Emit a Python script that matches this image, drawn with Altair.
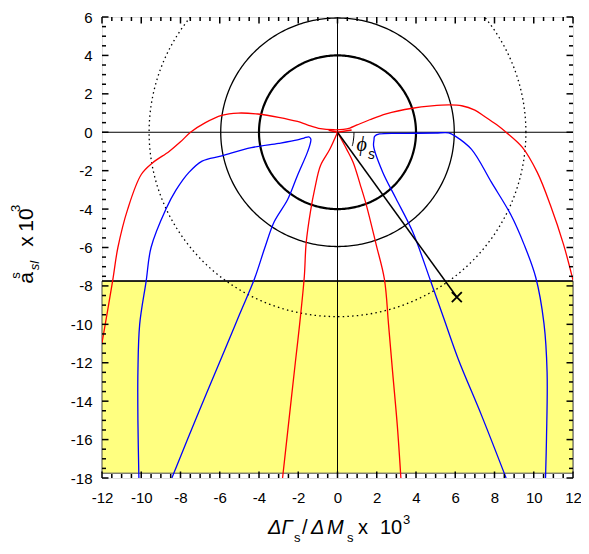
import altair as alt
import numpy as np
import pandas as pd

# ---------------- data ----------------
x_domain = [-12, 12]
y_domain = [-18, 6]
major_x = [-12, -10, -8, -6, -4, -2, 0, 2, 4, 6, 8, 10, 12]
major_y = [-18, -16, -14, -12, -10, -8, -6, -4, -2, 0, 2, 4, 6]
minor_x = [v for v in np.arange(-12, 12.01, 0.5) if v % 2 != 0]
minor_y = [v for v in np.arange(-18, 6.01, 0.5) if v % 2 != 0]

band_lo, band_hi = -17.75, -7.75          # yellow excluded region

circle_radii = [4.0, 5.95, 9.6]           # thick, thin, dotted

red_outer_x = [-12.0, -11.46, -11.19, -10.69, -10.0, -9.43, -8.58, -8.0, -7.49, -6.73, -5.9, -5.06,
               -4.06, -3.0, -2.04, -1.54, -0.87, -0.2, 0.3, 0.63, 1.0, 1.64, 2.48, 3.82, 4.8, 5.66,
               6.33, 7.0, 7.5, 8.1, 8.59, 9.43, 10.18, 10.85, 11.52, 12.0]
red_outer_y = [-10.97, -7.75, -6.0, -4.0, -2.2, -1.6, -1.0, -0.5, 0.0, 0.5, 0.88, 1.0,
               0.95, 0.78, 0.56, 0.39, 0.19, 0.13, 0.15, 0.22, 0.38, 0.65, 0.96, 1.25, 1.37, 1.42,
               1.38, 1.15, 0.82, 0.4, 0.0, -0.8, -2.09, -3.8, -5.85, -7.7]

red_left_x = [0.0, -0.4, -0.87, -1.15, -1.38, -1.6, -1.69, -1.93, -2.15, -2.54, -2.8]
red_left_y = [0.0, -0.9, -1.74, -2.9, -4.14, -5.8, -7.5, -10.0, -12.0, -15.6, -18.0]
red_right_x = [0.0, 0.47, 0.8, 1.15, 1.47, 1.97, 2.39, 2.6, 2.81, 3.05, 3.23]
red_right_y = [0.0, -0.89, -1.57, -2.7, -3.79, -5.85, -7.65, -10.0, -12.5, -15.3, -18.0]
red_loop_x = [-0.45, 0.0, 0.72]
red_loop_y = [0.1, 0.0, 0.12]

blue_left_x = [-10.12, -10.17, -10.17, -10.08, -9.75, -9.5, -8.74, -8.24, -7.57, -6.9, -5.9, -4.39,
               -3.0, -2.04, -1.7, -1.46, -1.36, -1.38, -1.54, -2.04, -2.54, -3.22, -3.7, -4.22,
               -5.0, -5.73, -7.07, -8.44]
blue_left_y = [-18.0, -15.0, -12.5, -10.0, -7.75, -6.0, -4.0, -3.03, -2.09, -1.5, -1.23, -0.8,
               -0.58, -0.4, -0.3, -0.24, -0.35, -0.55, -1.06, -2.25, -3.5, -4.65, -6.0, -7.6,
               -9.5, -11.3, -14.56, -18.0]
blue_right_x = [8.59, 7.34, 6.16, 5.42, 4.74, 3.82, 2.98, 2.31, 1.84, 1.86, 1.89, 2.14, 3.5, 5.0,
                5.66, 6.0, 6.83, 7.84, 8.84, 9.51, 10.1, 10.52, 10.68, 10.65, 10.6]
blue_right_y = [-18.0, -14.74, -11.83, -9.7, -7.73, -5.16, -3.45, -2.09, -0.72, -0.4, -0.21, -0.09,
                -0.06, -0.04, -0.03, -0.2, -0.89, -2.6, -4.31, -5.85, -7.55, -9.95, -12.5, -15.9, -18.0]

phi_line_x = [0.0, 6.08]
phi_line_y = [0.0, -8.58]
phi_arc_x = [0.84, 0.83, 0.8, 0.75]
phi_arc_y = [0.0, -0.25, -0.5, -0.72]
marker_x, marker_y = 6.08, -8.58

# ---------------- chart ----------------
W, H = 471, 461
PAD_L, PAD_T, PAD_R, PAD_B = 94, 9, 8, 68
xs = alt.Scale(domain=x_domain, nice=False, zero=False)
ys = alt.Scale(domain=y_domain, nice=False, zero=False)
AX = alt.Axis(values=major_x, ticks=False, domain=False, grid=False, labelPadding=12, labelFlush=False,
              labelExpr="'' + datum.value",
              labelFont="Liberation Sans", labelFontSize=15, labelColor="black", title=None)
AY = alt.Axis(values=major_y, ticks=False, domain=False, grid=False, labelPadding=10, labelFlush=False,
              labelExpr="'' + datum.value",
              labelFont="Liberation Sans", labelFontSize=15, labelColor="black", title=None)


def X(f):
    return alt.X(f, type="quantitative", scale=xs, axis=AX, title=None)


def Y(f):
    return alt.Y(f, type="quantitative", scale=ys, axis=AY, title=None)


def curve(xv, yv, color, width=1.3, dash=None, interp="linear"):
    df = pd.DataFrame({"x": xv, "y": yv, "o": list(range(len(xv)))})
    kw = dict(color=color, strokeWidth=width, clip=True, interpolate=interp)
    if dash:
        kw["strokeDash"] = dash
    return alt.Chart(df).mark_line(**kw).encode(x=X("x"), y=Y("y"), order="o:Q")


def smooth(xv, yv, color):
    return curve(xv, yv, color, 1.3, None, "catmull-rom")


def circle(r, width, dash=None):
    t = np.linspace(0, 2 * np.pi, 361)
    return curve(r * np.cos(t), r * np.sin(t), "black", width, dash)


band = alt.Chart(pd.DataFrame({"x": [x_domain[0]], "x2": [x_domain[1]], "y": [band_lo], "y2": [band_hi]})).mark_rect(
    color="#FFFF80", stroke="#444444", strokeWidth=1).encode(x=X("x"), x2="x2", y=Y("y"), y2="y2")
band_top = alt.Chart(pd.DataFrame({"y": [band_hi]})).mark_rule(color="black", strokeWidth=1.5).encode(y=Y("y"))

axis0_v = alt.Chart(pd.DataFrame({"x": [0]})).mark_rule(color="black", strokeWidth=1).encode(x=X("x"))
axis0_h = alt.Chart(pd.DataFrame({"y": [0]})).mark_rule(color="black", strokeWidth=1).encode(y=Y("y"))

layers = [band, band_top,
          circle(circle_radii[0], 2.2), circle(circle_radii[1], 1.3), circle(circle_radii[2], 1.3, [1.5, 3.2]),
          axis0_v, axis0_h,
          smooth(red_outer_x, red_outer_y, "red"), smooth(red_left_x, red_left_y, "red"),
          smooth(red_right_x, red_right_y, "red"), curve(red_loop_x, red_loop_y, "red", 1.6),
          smooth(blue_left_x, blue_left_y, "blue"), smooth(blue_right_x, blue_right_y, "blue"),
          curve(phi_line_x, phi_line_y, "black", 1.5), curve(phi_arc_x, phi_arc_y, "black", 1.0, None, "catmull-rom")]

marker = alt.Chart(pd.DataFrame({"x": [marker_x], "y": [marker_y]})).mark_point(
    shape="M -1 -1 L 1 1 M -1 1 L 1 -1", size=100, filled=False, stroke="black", strokeWidth=1.8, opacity=1
).encode(x=X("x"), y=Y("y"))
layers.append(marker)

phi = alt.Chart(pd.DataFrame({"x": [0.97], "y": [-0.97], "t": ["ϕ"]})).mark_text(
    font="Liberation Serif", fontStyle="italic", fontSize=20, align="left", baseline="alphabetic", color="black"
).encode(x=X("x"), y=Y("y"), text="t:N")
phi_s = alt.Chart(pd.DataFrame({"x": [1.56], "y": [-1.38], "t": ["s"]})).mark_text(
    font="Liberation Sans", fontStyle="italic", fontSize=14, align="left", baseline="alphabetic", color="black"
).encode(x=X("x"), y=Y("y"), text="t:N")
layers += [phi, phi_s]

# tick marks (inside the frame)
LMAJ, LMIN = 6.5, 4
for vals, L in [(major_x, LMAJ), (minor_x, LMIN)]:
    d = pd.DataFrame({"x": vals})
    layers.append(alt.Chart(d).mark_rule(color="black", strokeWidth=1.5).encode(
        x=X("x"), y=alt.value(H), y2=alt.value(H - L)))
    layers.append(alt.Chart(d).mark_rule(color="black", strokeWidth=1.5).encode(
        x=X("x"), y=alt.value(0), y2=alt.value(L)))
for vals, L in [(major_y, LMAJ), (minor_y, LMIN)]:
    d = pd.DataFrame({"y": vals})
    layers.append(alt.Chart(d).mark_rule(color="black", strokeWidth=1.5).encode(
        y=Y("y"), x=alt.value(0), x2=alt.value(L)))
    layers.append(alt.Chart(d).mark_rule(color="black", strokeWidth=1.5).encode(
        y=Y("y"), x=alt.value(W), x2=alt.value(W - L)))

# axis titles with sub/superscripts (page-pixel offsets converted to plot-area offsets)
one = alt.Data(values=[{}])
OX, OY = 8 + PAD_L, 8 + PAD_T


def txt(s, px, py, size, align="left", baseline="alphabetic", angle=0, italic=False):
    kw = dict(font="Liberation Sans", fontSize=size, align=align, baseline=baseline, color="black")
    if angle:
        kw["angle"] = angle
    if italic:
        kw["fontStyle"] = "italic"
    return alt.Chart(one).mark_text(**kw).encode(
        x=alt.value(px - OX), y=alt.value(py - OY), text=alt.value(s))


# y title: a^s_sl x 10^3 (rotated)
layers += [
    txt("a", 33, 278, 21, align="center", angle=270),
    txt("s", 20, 275.5, 13, align="center", angle=270),
    txt("sl", 38.5, 265.5, 13, align="center", angle=270, italic=True),
    txt("x", 33, 241.5, 21, align="center", angle=270),
    txt("10", 33, 220, 21, align="center", angle=270),
    txt("3", 20, 208.5, 13, align="center", angle=270),
]
# x title: ΔΓ_s / ΔM_s x 10^3
layers += [
    txt("ΔΓ", 268, 534, 20, italic=True),
    txt("s", 294, 542, 13),
    txt("/", 302, 534, 20),
    txt("Δ", 311, 534, 20, italic=True),
    txt("M", 327, 534, 20, italic=True),
    txt("s", 347, 542, 13),
    txt("x", 358, 534, 20),
    txt("10", 380, 534, 20),
    txt("3", 403, 524, 13),
]

chart = alt.layer(*layers).properties(
    width=W, height=H,
    autosize=alt.AutoSizeParams(type="none"),
    padding={"left": PAD_L, "top": PAD_T, "right": PAD_R, "bottom": PAD_B},
).configure_view(stroke="black", strokeWidth=2).configure(background="white")

chart.save("out.html", embed_options={"renderer": "svg", "actions": False})
